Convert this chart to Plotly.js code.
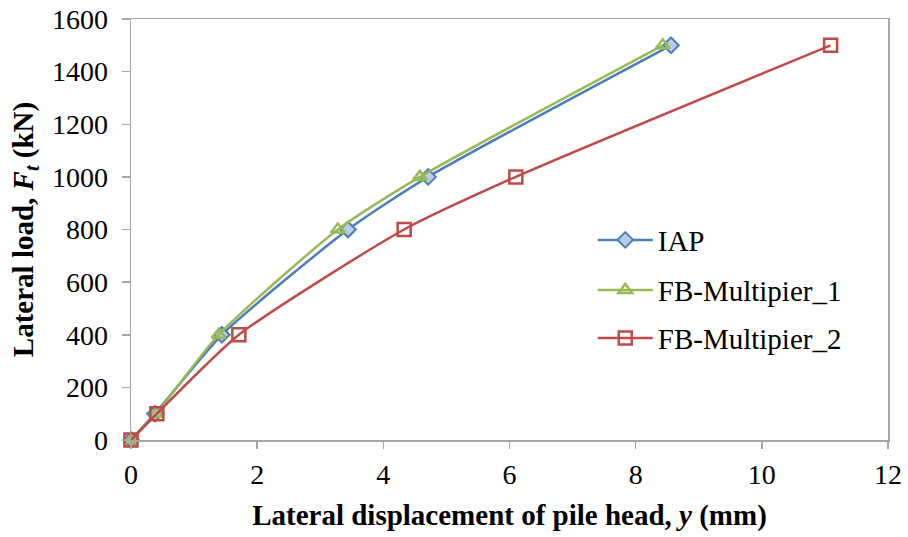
<!DOCTYPE html>
<html>
<head>
<meta charset="utf-8">
<script src="https://cdn.plot.ly/plotly-3.0.1.min.js"></script>
<style>html,body{margin:0;padding:0;background:#fff;}#chart{width:908px;height:537px;}</style>
</head>
<body>
<div id="chart"></div>
<script>
var loads = [0, 100, 400, 800, 1000, 1500];
var iapDisp = [0, 0.38, 1.44, 3.44, 4.71, 8.56];
var fb1Disp = [0, 0.40, 1.39, 3.28, 4.58, 8.43];
var fb2Disp = [0, 0.41, 1.71, 4.33, 6.10, 11.09];
var seriesNames = ["IAP", "FB-Multipier_1", "FB-Multipier_2"];
var xTicks = [0, 2, 4, 6, 8, 10, 12];
var yTicks = [0, 200, 400, 600, 800, 1000, 1200, 1400, 1600];

var serif = "Liberation Serif, Times New Roman, serif";

var traces = [
  {x: iapDisp, y: loads, name: seriesNames[0], legend: "legend", mode: "lines+markers", type: "scatter",
   line: {color: "#4a7ebb", width: 2.5, shape: "spline", smoothing: 0.6},
   marker: {symbol: "diamond", size: 12, color: "#b9cde5", line: {color: "#4a7ebb", width: 2}}, cliponaxis: false},
  {x: fb1Disp, y: loads, name: seriesNames[1], legend: "legend2", mode: "lines+markers", type: "scatter",
   line: {color: "#98b954", width: 2.5, shape: "spline", smoothing: 0.6},
   marker: {symbol: "triangle-up-open", size: 12, color: "#98b954", line: {color: "#98b954", width: 2.5}}, cliponaxis: false},
  {x: fb2Disp, y: loads, name: seriesNames[2], legend: "legend3", mode: "lines+markers", type: "scatter",
   line: {color: "#be4b48", width: 2.5, shape: "spline", smoothing: 0.6},
   marker: {symbol: "square-open", size: 13, color: "#be4b48", line: {color: "#be4b48", width: 2.5}}, cliponaxis: false}
];

function leg(y) {
  return {x: 0.61, y: y, xanchor: "left", yanchor: "middle", bgcolor: "rgba(0,0,0,0)",
          font: {family: serif, size: 29, color: "#000"}, itemwidth: 55};
}

var layout = {
  width: 908, height: 537,
  margin: {l: 131, r: 20, t: 19, b: 97},
  paper_bgcolor: "#ffffff", plot_bgcolor: "#ffffff",
  font: {family: serif, size: 28, color: "#000"},
  showlegend: true,
  legend: leg(0.475),
  legend2: leg(0.356),
  legend3: leg(0.242),
  xaxis: {range: [0, 12], tickvals: xTicks, ticktext: xTicks.map(String),
          showgrid: false, zeroline: false, showline: true, mirror: true,
          linecolor: "#a6a6a6", linewidth: 1.5, ticks: "outside", ticklen: 7, tickcolor: "#a6a6a6", tickwidth: 1.5,
          ticklabelstandoff: 2,
          tickfont: {family: serif, size: 28}, title: {text: "<b>Lateral displacement of pile head, <i>y</i> (mm)</b>", font: {family: serif, size: 29}, standoff: 15}},
  yaxis: {range: [0, 1600], tickvals: yTicks, ticktext: yTicks.map(String),
          showgrid: false, zeroline: false, showline: true, mirror: true,
          linecolor: "#a6a6a6", linewidth: 1.5, ticks: "outside", ticklen: 8, tickcolor: "#a6a6a6", tickwidth: 1.5,
          ticklabelstandoff: 8,
          tickfont: {family: serif, size: 28}, title: {text: "<b>Lateral load, <i>F<sub>t</sub></i> (kN)</b>", font: {family: serif, size: 29}, standoff: 10}}
};

Plotly.newPlot("chart", traces, layout, {displayModeBar: false, staticPlot: true});
</script>
</body>
</html>
